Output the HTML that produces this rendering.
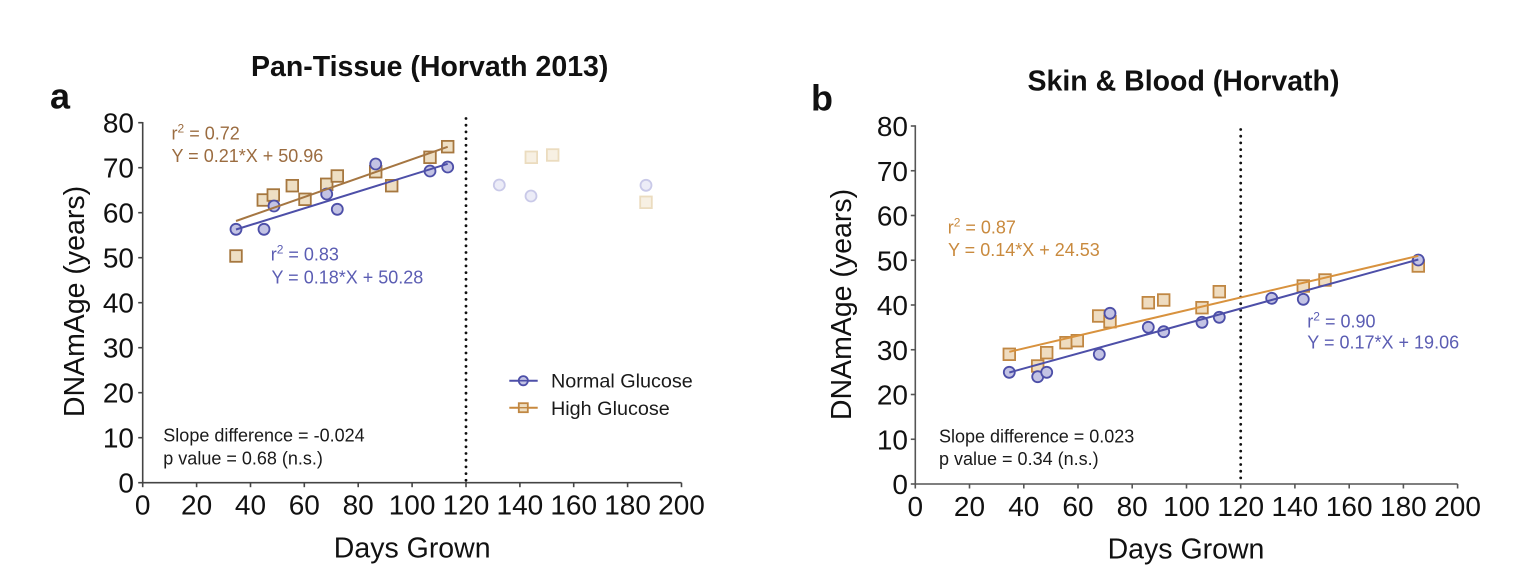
<!DOCTYPE html>
<html>
<head>
<meta charset="utf-8">
<style>
html,body{margin:0;padding:0;background:#fff;}
svg{display:block;}
text{font-family:"Liberation Sans",Arial,sans-serif;}
</style>
</head>
<body>
<svg width="1538" height="574" viewBox="0 0 1538 574" xmlns="http://www.w3.org/2000/svg">
<rect width="1538" height="574" fill="#fff"/>

<!-- ================= PANEL A ================= -->
<text x="50" y="108.3" font-size="36" font-weight="bold" fill="#111">a</text>
<text x="429.7" y="76" font-size="28.5" font-weight="bold" fill="#111" text-anchor="middle">Pan-Tissue (Horvath 2013)</text>

<g stroke="#444" stroke-width="1.6" fill="none">
<line x1="142.7" y1="122" x2="142.7" y2="483.5"/>
<line x1="142" y1="482.7" x2="681.5" y2="482.7"/>
<line x1="138.2" y1="482.7" x2="142.7" y2="482.7"/>
<line x1="138.2" y1="437.7" x2="142.7" y2="437.7"/>
<line x1="138.2" y1="392.7" x2="142.7" y2="392.7"/>
<line x1="138.2" y1="347.7" x2="142.7" y2="347.7"/>
<line x1="138.2" y1="302.7" x2="142.7" y2="302.7"/>
<line x1="138.2" y1="257.7" x2="142.7" y2="257.7"/>
<line x1="138.2" y1="212.7" x2="142.7" y2="212.7"/>
<line x1="138.2" y1="167.7" x2="142.7" y2="167.7"/>
<line x1="138.2" y1="122.7" x2="142.7" y2="122.7"/>
<line x1="142.7" y1="482.7" x2="142.7" y2="487.2"/>
<line x1="196.6" y1="482.7" x2="196.6" y2="487.2"/>
<line x1="250.5" y1="482.7" x2="250.5" y2="487.2"/>
<line x1="304.3" y1="482.7" x2="304.3" y2="487.2"/>
<line x1="358.2" y1="482.7" x2="358.2" y2="487.2"/>
<line x1="412.1" y1="482.7" x2="412.1" y2="487.2"/>
<line x1="466.0" y1="482.7" x2="466.0" y2="487.2"/>
<line x1="519.9" y1="482.7" x2="519.9" y2="487.2"/>
<line x1="573.7" y1="482.7" x2="573.7" y2="487.2"/>
<line x1="627.6" y1="482.7" x2="627.6" y2="487.2"/>
<line x1="681.5" y1="482.7" x2="681.5" y2="487.2"/>
</g>

<g font-size="28" fill="#111" text-anchor="end">
<text x="134" y="492.7">0</text>
<text x="134" y="447.7">10</text>
<text x="134" y="402.7">20</text>
<text x="134" y="357.7">30</text>
<text x="134" y="312.7">40</text>
<text x="134" y="267.7">50</text>
<text x="134" y="222.7">60</text>
<text x="134" y="177.7">70</text>
<text x="134" y="132.7">80</text>
</g>
<g font-size="28" fill="#111" text-anchor="middle">
<text x="142.7" y="514.6">0</text>
<text x="196.6" y="514.6">20</text>
<text x="250.5" y="514.6">40</text>
<text x="304.3" y="514.6">60</text>
<text x="358.2" y="514.6">80</text>
<text x="412.1" y="514.6">100</text>
<text x="466.0" y="514.6">120</text>
<text x="519.9" y="514.6">140</text>
<text x="573.7" y="514.6">160</text>
<text x="627.6" y="514.6">180</text>
<text x="681.5" y="514.6">200</text>
</g>
<text x="412.2" y="557.3" font-size="28.5" fill="#111" text-anchor="middle">Days Grown</text>
<text transform="translate(84,301.5) rotate(-90)" font-size="28.5" fill="#111" text-anchor="middle">DNAmAge (years)</text>

<line x1="466" y1="118.5" x2="466" y2="482" stroke="#111" stroke-width="2.8" stroke-dasharray="0 6.7" stroke-linecap="round"/>

<g stroke-width="1.8">
<circle cx="499.3" cy="185" r="5.5" fill="#ececf7" stroke="#c9c9e8"/>
<circle cx="531" cy="196" r="5.5" fill="#ececf7" stroke="#c9c9e8"/>
<circle cx="646" cy="185.3" r="5.5" fill="#ececf7" stroke="#c9c9e8"/>
<rect x="525.5" y="151.5" width="11.6" height="11.6" fill="#f7f0e3" stroke="#ebdcbf"/>
<rect x="546.9" y="149.2" width="11.6" height="11.6" fill="#f7f0e3" stroke="#ebdcbf"/>
<rect x="640.2" y="196.5" width="11.6" height="11.6" fill="#f7f0e3" stroke="#ebdcbf"/>
</g>

<g fill="#eedfc4" stroke="#a6773f" stroke-width="1.8">
<rect x="230.2" y="250.2" width="11.6" height="11.6"/>
<rect x="257.5" y="194.2" width="11.6" height="11.6"/>
<rect x="267.5" y="189.2" width="11.6" height="11.6"/>
<rect x="286.5" y="179.9" width="11.6" height="11.6"/>
<rect x="299.2" y="193.5" width="11.6" height="11.6"/>
<rect x="320.9" y="178.5" width="11.6" height="11.6"/>
<rect x="331.5" y="170.2" width="11.6" height="11.6"/>
<rect x="369.9" y="165.9" width="11.6" height="11.6"/>
<rect x="385.9" y="179.9" width="11.6" height="11.6"/>
<rect x="424.2" y="151.5" width="11.6" height="11.6"/>
<rect x="441.9" y="140.9" width="11.6" height="11.6"/>
</g>
<g fill="#c3c3e4" stroke="#4d4fa8" stroke-width="1.8">
<circle cx="236" cy="229.3" r="5.5"/>
<circle cx="264" cy="229.3" r="5.5"/>
<circle cx="274" cy="206" r="5.5"/>
<circle cx="326.7" cy="194" r="5.5"/>
<circle cx="337.3" cy="209.3" r="5.5"/>
<circle cx="375.7" cy="164" r="5.5"/>
<circle cx="430" cy="171" r="5.5"/>
<circle cx="447.7" cy="167" r="5.5"/>
</g>
<line x1="236" y1="221" x2="447.7" y2="146.8" stroke="#a57642" stroke-width="2"/>
<line x1="236" y1="229.5" x2="447.7" y2="163.8" stroke="#4d4fa8" stroke-width="2"/>

<g font-size="18" fill="#9b6c40">
<text x="171.5" y="139.3">r<tspan font-size="12" dy="-7">2</tspan><tspan dy="7"> = 0.72</tspan></text>
<text x="171.5" y="162">Y = 0.21*X + 50.96</text>
</g>
<g font-size="18" fill="#5b5db3">
<text x="270.7" y="260.7">r<tspan font-size="12" dy="-7">2</tspan><tspan dy="7"> = 0.83</tspan></text>
<text x="271.5" y="283.3">Y = 0.18*X + 50.28</text>
</g>
<g font-size="18" fill="#1a1a1a">
<text x="163.3" y="441.7">Slope difference = -0.024</text>
<text x="163.3" y="464.3">p value = 0.68 (n.s.)</text>
</g>

<line x1="509.3" y1="380.7" x2="537.7" y2="380.7" stroke="#4d4fa8" stroke-width="2"/>
<circle cx="523.3" cy="380.7" r="4.6" fill="#c3c3e4" stroke="#4d4fa8" stroke-width="1.8"/>
<line x1="519" y1="380.7" x2="527.6" y2="380.7" stroke="#4d4fa8" stroke-width="1.6"/>
<line x1="509.3" y1="407.7" x2="537.7" y2="407.7" stroke="#c8893e" stroke-width="2"/>
<rect x="518.8" y="403.2" width="9" height="9" fill="#eedfc4" stroke="#c08743" stroke-width="1.8"/>
<line x1="519" y1="407.7" x2="527.6" y2="407.7" stroke="#c08743" stroke-width="1.4"/>
<g font-size="19.8" fill="#1a1a1a">
<text x="551" y="387.5">Normal Glucose</text>
<text x="551" y="415">High Glucose</text>
</g>

<!-- ================= PANEL B ================= -->
<text x="811" y="110.7" font-size="36" font-weight="bold" fill="#111">b</text>
<text x="1183.5" y="90.7" font-size="28.5" font-weight="bold" fill="#111" text-anchor="middle">Skin &amp; Blood (Horvath)</text>

<g stroke="#555" stroke-width="1.6" fill="none">
<line x1="915.3" y1="125.3" x2="915.3" y2="484.8"/>
<line x1="914.6" y1="484" x2="1457.6" y2="484"/>
<line x1="910.8" y1="484" x2="915.3" y2="484"/>
<line x1="910.8" y1="439.25" x2="915.3" y2="439.25"/>
<line x1="910.8" y1="394.5" x2="915.3" y2="394.5"/>
<line x1="910.8" y1="349.75" x2="915.3" y2="349.75"/>
<line x1="910.8" y1="305" x2="915.3" y2="305"/>
<line x1="910.8" y1="260.25" x2="915.3" y2="260.25"/>
<line x1="910.8" y1="215.5" x2="915.3" y2="215.5"/>
<line x1="910.8" y1="170.75" x2="915.3" y2="170.75"/>
<line x1="910.8" y1="126" x2="915.3" y2="126"/>
<line x1="915.3" y1="484" x2="915.3" y2="488.5"/>
<line x1="969.5" y1="484" x2="969.5" y2="488.5"/>
<line x1="1023.8" y1="484" x2="1023.8" y2="488.5"/>
<line x1="1078.0" y1="484" x2="1078.0" y2="488.5"/>
<line x1="1132.2" y1="484" x2="1132.2" y2="488.5"/>
<line x1="1186.5" y1="484" x2="1186.5" y2="488.5"/>
<line x1="1240.7" y1="484" x2="1240.7" y2="488.5"/>
<line x1="1294.9" y1="484" x2="1294.9" y2="488.5"/>
<line x1="1349.2" y1="484" x2="1349.2" y2="488.5"/>
<line x1="1403.4" y1="484" x2="1403.4" y2="488.5"/>
<line x1="1457.6" y1="484" x2="1457.6" y2="488.5"/>
</g>

<g font-size="28" fill="#111" text-anchor="end">
<text x="908" y="494">0</text>
<text x="908" y="449.25">10</text>
<text x="908" y="404.5">20</text>
<text x="908" y="359.75">30</text>
<text x="908" y="315">40</text>
<text x="908" y="270.25">50</text>
<text x="908" y="225.5">60</text>
<text x="908" y="180.75">70</text>
<text x="908" y="136">80</text>
</g>
<g font-size="28" fill="#111" text-anchor="middle">
<text x="915.3" y="515.9">0</text>
<text x="969.5" y="515.9">20</text>
<text x="1023.8" y="515.9">40</text>
<text x="1078.0" y="515.9">60</text>
<text x="1132.2" y="515.9">80</text>
<text x="1186.5" y="515.9">100</text>
<text x="1240.7" y="515.9">120</text>
<text x="1294.9" y="515.9">140</text>
<text x="1349.2" y="515.9">160</text>
<text x="1403.4" y="515.9">180</text>
<text x="1457.6" y="515.9">200</text>
</g>
<text x="1186" y="558.6" font-size="28.5" fill="#111" text-anchor="middle">Days Grown</text>
<text transform="translate(851,304.5) rotate(-90)" font-size="28.5" fill="#111" text-anchor="middle">DNAmAge (years)</text>

<line x1="1240.7" y1="129.5" x2="1240.7" y2="483" stroke="#111" stroke-width="2.8" stroke-dasharray="0 6.7" stroke-linecap="round"/>

<g fill="#efdcc0" stroke="#c08743" stroke-width="1.8">
<rect x="1003.5" y="348.5" width="11.6" height="11.6"/>
<rect x="1031.9" y="360.2" width="11.6" height="11.6"/>
<rect x="1040.9" y="346.9" width="11.6" height="11.6"/>
<rect x="1060.2" y="336.9" width="11.6" height="11.6"/>
<rect x="1071.5" y="334.9" width="11.6" height="11.6"/>
<rect x="1092.9" y="310.2" width="11.6" height="11.6"/>
<rect x="1104.2" y="315.9" width="11.6" height="11.6"/>
<rect x="1142.5" y="296.9" width="11.6" height="11.6"/>
<rect x="1157.9" y="294.2" width="11.6" height="11.6"/>
<rect x="1196.2" y="301.9" width="11.6" height="11.6"/>
<rect x="1213.5" y="285.9" width="11.6" height="11.6"/>
<rect x="1297.5" y="280.2" width="11.6" height="11.6"/>
<rect x="1319.2" y="274.2" width="11.6" height="11.6"/>
<rect x="1412.5" y="260.2" width="11.6" height="11.6"/>
</g>
<g fill="#c3c3e4" stroke="#4d4fa8" stroke-width="1.8">
<circle cx="1009.3" cy="372.3" r="5.5"/>
<circle cx="1037.7" cy="376.7" r="5.5"/>
<circle cx="1046.7" cy="372.3" r="5.5"/>
<circle cx="1099.3" cy="354.3" r="5.5"/>
<circle cx="1110" cy="313.3" r="5.5"/>
<circle cx="1148.3" cy="327.3" r="5.5"/>
<circle cx="1163.7" cy="331.7" r="5.5"/>
<circle cx="1202" cy="322.3" r="5.5"/>
<circle cx="1219.3" cy="317.3" r="5.5"/>
<circle cx="1271.7" cy="298.3" r="5.5"/>
<circle cx="1303.3" cy="299.3" r="5.5"/>
<circle cx="1418.3" cy="260" r="5.5"/>
</g>
<line x1="1009.3" y1="351.8" x2="1418.3" y2="255.8" stroke="#d8923e" stroke-width="2"/>
<line x1="1009.3" y1="372.5" x2="1418.3" y2="259.5" stroke="#4d4fa8" stroke-width="2"/>

<g font-size="18" fill="#c98a3e">
<text x="947.7" y="233.3">r<tspan font-size="12" dy="-7">2</tspan><tspan dy="7"> = 0.87</tspan></text>
<text x="948" y="256">Y = 0.14*X + 24.53</text>
</g>
<g font-size="18" fill="#5b5db3">
<text x="1307.3" y="327.3">r<tspan font-size="12" dy="-7">2</tspan><tspan dy="7"> = 0.90</tspan></text>
<text x="1307.3" y="348.3">Y = 0.17*X + 19.06</text>
</g>
<g font-size="18" fill="#1a1a1a">
<text x="939" y="442.7">Slope difference = 0.023</text>
<text x="939" y="465">p value = 0.34 (n.s.)</text>
</g>
</svg>
</body>
</html>
